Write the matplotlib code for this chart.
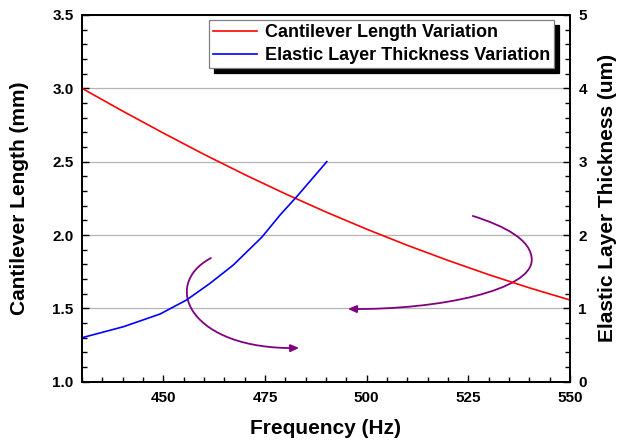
import matplotlib
matplotlib.use("Agg")
import matplotlib.pyplot as plt
from matplotlib.patches import FancyArrowPatch
from matplotlib.path import Path
from matplotlib.ticker import MultipleLocator

plt.rcParams['font.family'] = ['Liberation Sans', 'DejaVu Sans']
plt.rcParams['font.weight'] = 'bold'

# Data
freq_length = [430, 440, 450, 460, 470, 480, 490, 500, 510, 520, 530, 540, 550]
cantilever_length = [3.0, 2.845, 2.695, 2.55, 2.412, 2.281, 2.157, 2.04, 1.93, 1.827, 1.73, 1.64, 1.557]

freq_thick = [430, 440.2, 449.2, 455.7, 461.5, 467.2, 474.2, 478.7, 482.8, 490.2]
layer_thickness = [0.6, 0.75, 0.923, 1.114, 1.342, 1.591, 1.969, 2.273, 2.523, 3.0]

x_ticks = [450, 475, 500, 525, 550]
left_ticks = [1.0, 1.5, 2.0, 2.5, 3.0, 3.5]
right_ticks = [0, 1, 2, 3, 4, 5]

fig = plt.figure(figsize=(6.17, 4.45), dpi=100)
ax = fig.add_axes([0.1329, 0.1422, 0.7909, 0.8241])
ax2 = ax.twinx()

l1, = ax.plot(freq_length, cantilever_length, color='#ff0000', lw=1.2,
              label='Cantilever Length Variation')
l2, = ax2.plot(freq_thick, layer_thickness, color='#0000ff', lw=1.2,
               label='Elastic Layer Thickness Variation')

ax.set_xlim(430, 550)
ax.set_ylim(1.0, 3.5)
ax2.set_ylim(0, 5)

ax.set_xticks(x_ticks)
ax.set_yticks(left_ticks)
ax2.set_yticks(right_ticks)
ax.xaxis.set_minor_locator(MultipleLocator(5))
ax.yaxis.set_minor_locator(MultipleLocator(0.1))
ax2.yaxis.set_minor_locator(MultipleLocator(0.2))
ax.set_yticklabels([f'{v:.1f}' for v in left_ticks])
ax2.set_yticklabels([str(v) for v in right_ticks])

for a in (ax, ax2):
    a.tick_params(which='major', direction='in', length=5, width=1.0, labelsize=11, pad=6)
    a.tick_params(which='minor', direction='in', length=3.5, width=1.0)
    for s in a.spines.values():
        s.set_linewidth(1.3)
ax.tick_params(axis='x', which='major', pad=7)
ax.tick_params(axis='y', which='both', right=False)
ax.tick_params(axis='x', which='both', top=False)
ax2.tick_params(axis='x', which='both', top=False, bottom=False)

for lab in ax.get_xticklabels() + ax.get_yticklabels() + ax2.get_yticklabels():
    lab.set_fontweight('bold')

ax.yaxis.grid(True, which='major', color='#b4b4b4', lw=0.9)
ax.set_axisbelow(True)

ax.set_xlabel('Frequency (Hz)', fontsize=15, fontweight='bold', labelpad=10)
ax.set_ylabel('Cantilever Length (mm)', fontsize=15, fontweight='bold', labelpad=17)
ax2.set_ylabel('Elastic Layer Thickness (um)', fontsize=15, fontweight='bold', labelpad=8)

leg = ax2.legend(handles=[l1, l2], loc='upper right', bbox_to_anchor=(0.967, 0.986),
                 fontsize=13, frameon=True, fancybox=False,
                 shadow={'ox': 3.5, 'oy': -3.5, 'color': 'black', 'alpha': 1},
                 handlelength=2.4, handletextpad=0.45, labelspacing=0.32,
                 borderpad=0.22, borderaxespad=0)
leg.get_frame().set_edgecolor('#808080')
leg.get_frame().set_linewidth(0.9)
for t in leg.get_texts():
    t.set_fontweight('bold')

purple = '#800080'
arrow1 = Path([(461.7, 1.843), (449.2, 1.659), (456.6, 1.216), (483.4, 1.23)],
              [Path.MOVETO, Path.CURVE4, Path.CURVE4, Path.CURVE4])
arrow2 = Path([(526.1, 2.13), (534.0, 2.061), (540.6, 1.966), (540.6, 1.83),
               (540.6, 1.625), (518.0, 1.489), (495.4, 1.496)],
              [Path.MOVETO, Path.CURVE4, Path.CURVE4, Path.CURVE4,
               Path.CURVE4, Path.CURVE4, Path.CURVE4])
for p in (arrow1, arrow2):
    fa = FancyArrowPatch(path=p, arrowstyle='-|>,head_length=5,head_width=2.2',
                         color=purple, lw=1.3, transform=ax.transData,
                         mutation_scale=1, shrinkA=0, shrinkB=0)
    ax.add_patch(fa)

fig.savefig('out.png', dpi=100)
